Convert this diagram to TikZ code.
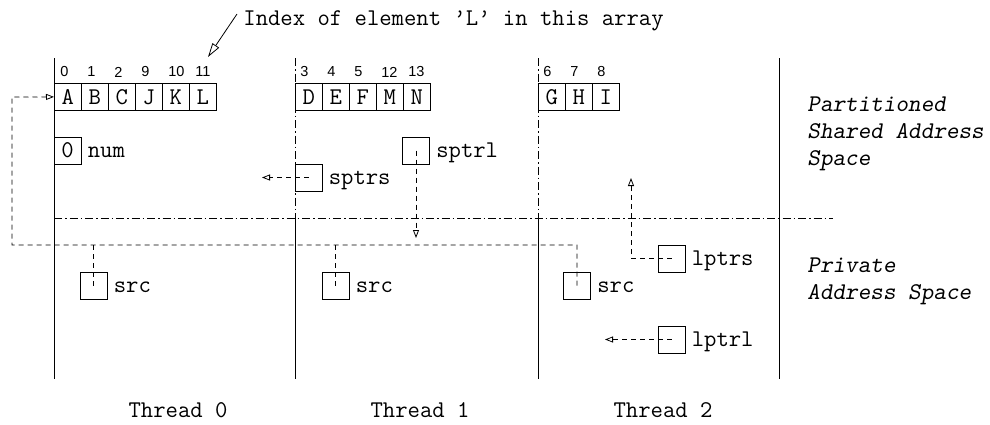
\documentclass[tikz,border=0pt]{standalone}
\usepackage{fontspec}
\newfontfamily\idxfont{Liberation Sans}
\usetikzlibrary{arrows.meta}
\begin{document}
\begin{tikzpicture}[x=1pt,y=-1pt, line width=0.8pt,
  every node/.style={font=\ttfamily\fontsize{24}{27}\selectfont, inner sep=0pt},
  cell/.style={draw, minimum width=27pt, minimum height=27pt, anchor=north west},
  idx/.style={font=\idxfont\fontsize{14.5}{16}\selectfont, anchor=west},
  box/.style={draw, minimum width=27pt, minimum height=27pt},
  lbl/.style={anchor=base west},
  note/.style={anchor=base west, font=\ttfamily\slshape\fontsize{24}{27}\selectfont},
  dsh/.style={dash pattern=on 5pt off 4pt},
  ptr/.style={dsh, -{Triangle[open,length=8pt,width=6pt]}},
  thin arrow/.style={-{Triangle[open,length=14pt,width=8pt]}},
  dd/.style={dash pattern=on 8pt off 3pt on 1.5pt off 3pt}
]
\useasboundingbox (0,0) rectangle (990,424);

% thread separators
\coordinate (t0a) at (54,58);  \coordinate (t0b) at (54,379);
\coordinate (t1a) at (295,58); \coordinate (t1m) at (295,218); \coordinate (t1b) at (295,379);
\coordinate (t2a) at (538,58); \coordinate (t2m) at (538,218); \coordinate (t2b) at (538,379);
\coordinate (t3a) at (779,58); \coordinate (t3b) at (779,379);
\draw (t0a) -- (t0b);
\draw[dd] (t1a) -- (t1m); \draw (t1m) -- (t1b);
\draw[dd] (t2a) -- (t2m); \draw (t2m) -- (t2b);
\draw (t3a) -- (t3b);
\coordinate (ha) at (54,218); \coordinate (hb) at (833,218);
\draw[dd] (ha) -- (hb);

% arrays
\foreach \l [count=\i from 0] in {A,B,C,J,K,L}
  \node[cell] (a\l) at (54+27*\i,83) {\l};
\foreach \n [count=\i from 0] in {0,1,2,9,10,11}
  \node[idx] (ia\i) at (60+27*\i,72) {\n};
\foreach \l [count=\i from 0] in {D,E,F,M,N}
  \node[cell] (a\l) at (295+27*\i,83) {\l};
\foreach \n [count=\i from 0] in {3,4,5,12,13}
  \node[idx] (ib\i) at (300+27*\i,72) {\n};
\foreach \l [count=\i from 0] in {G,H,I}
  \node[cell] (a\l) at (538+27*\i,83) {\l};
\foreach \n [count=\i from 0] in {6,7,8}
  \node[idx] (ic\i) at (543+27*\i,72) {\n};

% index note
\node[lbl] (idxnote) at (243,25) {Index of element ’L’ in this array};
\coordinate (nstart) at (237,14);
\coordinate (ntip) at (208,57);
\draw[thin arrow] (nstart) -- (ntip);

% boxes
\node[box] (num) at (67.5,150.5) {0};
\node[lbl] (numl) at ([xshift=6pt,yshift=6.5pt]num.south east) {num};
\node[box] (sptrs) at (308.5,177.5) {};
\node[lbl] (sptrsl) at ([xshift=6pt,yshift=6.5pt]sptrs.south east) {sptrs};
\node[box] (sptrl) at (416,150.5) {};
\node[lbl] (sptrll) at ([xshift=6pt,yshift=6.5pt]sptrl.south east) {sptrl};
\node[box] (src0) at (93.5,285.5) {};
\node[lbl] (src0l) at ([xshift=6pt,yshift=6.5pt]src0.south east) {src};
\node[box] (src1) at (335.5,285.5) {};
\node[lbl] (src1l) at ([xshift=6pt,yshift=6.5pt]src1.south east) {src};
\node[box] (src2) at (577,285.5) {};
\node[lbl] (src2l) at ([xshift=6pt,yshift=6.5pt]src2.south east) {src};
\node[box] (lptrs) at (671.5,258.5) {};
\node[lbl] (lptrsl) at ([xshift=6pt,yshift=6.5pt]lptrs.south east) {lptrs};
\node[box] (lptrl) at (671.5,339.5) {};
\node[lbl] (lptrll) at ([xshift=6pt,yshift=6.5pt]lptrl.south east) {lptrl};

% pointer connectors
\coordinate (j1) at (577,245);
\coordinate (j2) at (12,245);
\coordinate (j3) at (12,97);
\draw[ptr] (src2.center) -- (j1) -- (j2) -- (j3) -- (aA.west);
\draw[dsh] (src0.center) -- (src0.center |- j1);
\draw[dsh] (src1.center) -- (src1.center |- j1);
\coordinate (sptrsend) at (262,177.5);
\draw[ptr] (sptrs.center) -- (sptrsend);
\coordinate (sptrlend) at (416,238);
\draw[ptr] (sptrl.center) -- (sptrlend);
\coordinate (lpk) at (631,258.5);
\coordinate (lptrsend) at (631,178);
\draw[ptr] (lptrs.center) -- (lpk) -- (lptrsend);
\coordinate (lptrlend) at (605,339.5);
\draw[ptr] (lptrl.center) -- (lptrlend);

% side notes
\node[note] (n1) at (807,111) {Partitioned};
\node[note] (n2) at (807,138) {Shared Address};
\node[note] (n3) at (807,165) {Space};
\node[note] (n4) at (807,272) {Private};
\node[note] (n5) at (807,299) {Address Space};

% thread labels
\node[anchor=base] (th0) at (178,417) {Thread 0};
\node[anchor=base] (th1) at (420,417) {Thread 1};
\node[anchor=base] (th2) at (663,417) {Thread 2};
\end{tikzpicture}
\end{document}
